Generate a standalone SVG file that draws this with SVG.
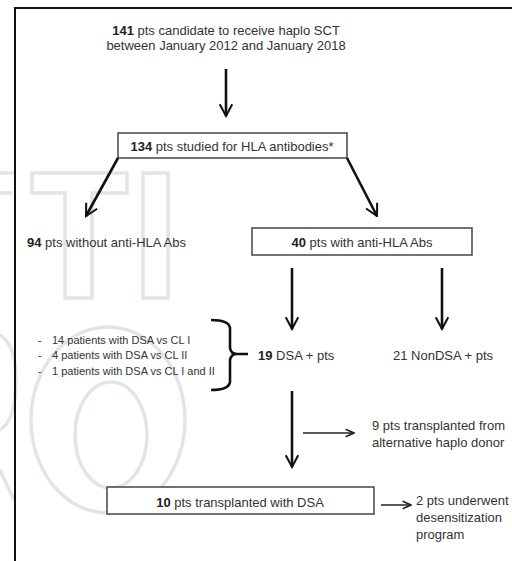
<svg xmlns="http://www.w3.org/2000/svg" width="512" height="561" viewBox="0 0 512 561">
<style>
text { font-family: "Liberation Sans", Arial, sans-serif; fill: #333; font-size: 13px; }
.b { font-weight: bold; fill: #222; }
.c { text-anchor: middle; }
.sm { font-size: 11px; }
.box { fill: #fff; stroke: #444; stroke-width: 1.5; }
.thick { stroke: #111; stroke-width: 2.6; fill: none; }
.thin { stroke: #222; stroke-width: 1.5; fill: none; }
.wm { stroke: #e0e5ea; stroke-width: 3.5; fill: none; }
</style>
<defs>
<marker id="ah" viewBox="0 0 10 10" refX="9" refY="5" markerWidth="6" markerHeight="6" markerUnits="strokeWidth" orient="auto">
<path d="M1.5,1 L9,5 L1.5,9" fill="none" stroke="#111" stroke-width="1.3"/>
</marker>
<marker id="ahs" viewBox="0 0 10 10" refX="9" refY="5" markerWidth="7" markerHeight="7" markerUnits="strokeWidth" orient="auto">
<path d="M1,1.5 L9,5 L1,8.5" fill="none" stroke="#222" stroke-width="1.5"/>
</marker>
</defs>
<rect width="512" height="561" fill="#fff"/>
<g id="watermark">
<path class="wm" d="M32,173 H127 V193 H92 V298 H65 V193 H32 Z"/>
<rect class="wm" x="143" y="173" width="25" height="125"/>
<path class="wm" d="M0,173 H14 M0,193 H12"/>
<ellipse class="wm" cx="108" cy="420" rx="77" ry="93"/>
<ellipse class="wm" cx="111" cy="435" rx="36" ry="53"/>
<path class="wm" d="M0,335 Q16,345 16,380 Q16,420 0,430 M0,470 L14,500"/>
</g>
<g id="frame">
<path d="M15,561 V8 H512" fill="none" stroke="#111" stroke-width="2"/>
</g>
<g id="n_candidates">
<text class="c" x="226" y="35"><tspan class="b">141</tspan> pts candidate to receive haplo SCT</text>
<text class="c" x="226" y="50">between January 2012 and January 2018</text>
</g>
<g id="n_studied">
<rect class="box" x="118" y="133" width="229" height="25"/>
<text class="c" x="232" y="151"><tspan class="b">134</tspan> pts studied for HLA antibodies*</text>
</g>
<g id="n_without">
<text x="27" y="247"><tspan class="b">94</tspan> pts without anti-HLA Abs</text>
</g>
<g id="n_with">
<rect class="box" x="252" y="228" width="220" height="27"/>
<text class="c" x="362" y="247"><tspan class="b">40</tspan> pts with anti-HLA Abs</text>
</g>
<g id="n_list">
<text class="sm" x="38" y="344">-</text><text class="sm" x="52" y="344">14 patients with DSA vs CL I</text>
<text class="sm" x="38" y="359">-</text><text class="sm" x="52" y="359">4 patients with DSA vs CL II</text>
<text class="sm" x="38" y="375">-</text><text class="sm" x="52" y="375">1 patients with DSA vs CL I and II</text>
</g>
<g id="n_dsa">
<text x="258" y="360"><tspan class="b">19</tspan> DSA + pts</text>
</g>
<g id="n_nondsa">
<text x="393" y="360">21 NonDSA + pts</text>
</g>
<g id="n_alt">
<text x="372" y="430">9 pts transplanted from</text>
<text x="372" y="447">alternative haplo donor</text>
</g>
<g id="n_transplanted">
<rect class="box" x="107" y="487" width="267" height="27"/>
<text class="c" x="240" y="507"><tspan class="b">10</tspan> pts transplanted with DSA</text>
</g>
<g id="n_desens">
<text x="416" y="505">2 pts underwent</text>
<text x="416" y="522">desensitization</text>
<text x="416" y="539">program</text>
</g>
<g id="connectors">
<line class="thick" x1="226" y1="69" x2="226" y2="116" marker-end="url(#ah)"/>
<line class="thick" x1="118" y1="158" x2="86" y2="216" marker-end="url(#ah)"/>
<line class="thick" x1="347" y1="158" x2="377" y2="216" marker-end="url(#ah)"/>
<line class="thick" x1="292" y1="268" x2="292" y2="329" marker-end="url(#ah)"/>
<line class="thick" x1="442" y1="268" x2="442" y2="329" marker-end="url(#ah)"/>
<path class="thick" d="M211,320 Q229,320 230,328 V348 Q231,354 237,354 H248 M237,354 Q231,354 230,360 V382 Q229,390 211,390"/>
<line class="thick" x1="292" y1="391" x2="292" y2="467" marker-end="url(#ah)"/>
<line class="thin" x1="303" y1="433" x2="354" y2="433" marker-end="url(#ahs)"/>
<line class="thin" x1="381" y1="505" x2="411" y2="505" marker-end="url(#ahs)"/>
</g>
</svg>
